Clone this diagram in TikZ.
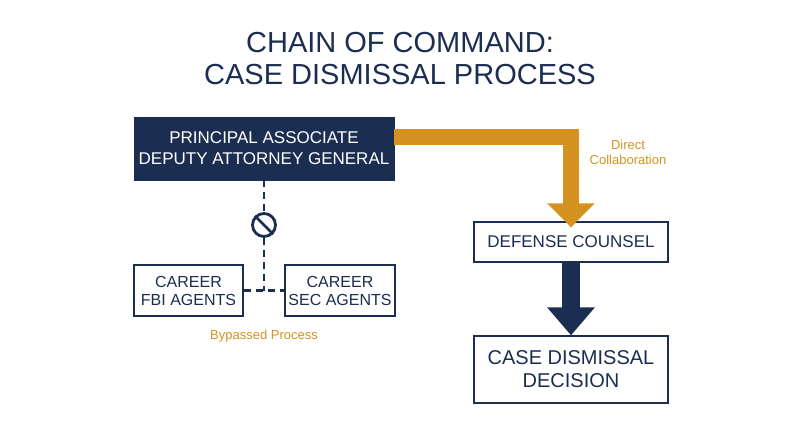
\documentclass[tikz,border=0pt]{standalone}
\usepackage{fontspec}
\setmainfont{Liberation Sans}
\usetikzlibrary{positioning,arrows.meta}
\definecolor{navy}{HTML}{1B2E51}
\definecolor{gold}{HTML}{D4931F}
\tikzset{
office/.style={rectangle,minimum width=260pt,minimum height=63pt,inner xsep=1pt,
draw=navy,fill=navy,text=white,font=\fontsize{17}{21}\selectfont,align=center},
agents/.style={rectangle,minimum width=109pt,minimum height=51pt,
draw=navy,line width=1.3pt,fill=white,text=navy,font=\fontsize{16}{18}\selectfont,align=center},
party/.style={rectangle,minimum width=194pt,inner sep=3pt,
draw=navy,line width=1.3pt,fill=white,text=navy,align=center},
note/.style={text=gold,font=\fontsize{13}{15}\selectfont,align=center},
bypassed/.style={navy,line width=2.2pt,dash pattern=on 7pt off 5pt}
}
\begin{document}
\begin{tikzpicture}[x=1pt,y=-1pt]
\useasboundingbox (0,0) rectangle (800,447);

\node[text=navy,font=\fontsize{29}{32}\selectfont,align=center] (title) at (400,59) {CHAIN OF COMMAND:\\CASE DISMISSAL PROCESS};

\node[office] (PADAG) at (264,148.5) {PRINCIPAL ASSOCIATE\\DEPUTY ATTORNEY GENERAL};
\node[agents] (FBI) at (188.5,290.5) {CAREER\\FBI AGENTS};
\node[agents] (SEC) at (340,290.5) {CAREER\\SEC AGENTS};
\coordinate (join) at (264,290.5);
\node[circle,draw=navy,line width=2.8pt,fill=white,minimum size=23pt,inner sep=0pt] (stop) at (264,225) {};
\draw[navy,line width=2.8pt] (stop.north west) -- (stop.south east);
\node[note] (bypass) at (264,336) {Bypassed Process};

\node[party,minimum height=40pt,font=\fontsize{17}{20}\selectfont] (DC) at (571,242) {DEFENSE COUNSEL};
\node[party,minimum height=67pt,font=\fontsize{20}{23}\selectfont] (CDD) at (571,369.5) {CASE DISMISSAL\\DECISION};
\node[note] (collab) at (628,152) {Direct\\Collaboration};

\draw[bypassed] (PADAG) -- (stop);
\draw[bypassed] (stop) -- (join);
\draw[bypassed] (FBI) -- (SEC);

\draw[gold,line width=16pt,-{Triangle[length=24pt,width=46pt]}] (PADAG.east|-0,137) -| ([yshift=-6pt]DC.north);
\draw[navy,line width=18pt,-{Triangle[length=28pt,width=46pt]}] (DC) -- (CDD);
\end{tikzpicture}
\end{document}
